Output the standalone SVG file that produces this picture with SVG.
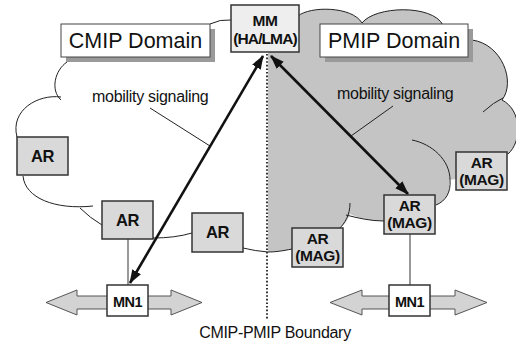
<svg xmlns="http://www.w3.org/2000/svg" width="516" height="346" viewBox="0 0 516 346">
<defs>
<style>
.cl{fill:none;stroke:#222;stroke-width:1}
.box{fill:#d9d9d9;stroke:#333;stroke-width:1.5}
.lbl{fill:#fff;stroke:#444;stroke-width:1}
.sh{fill:#9a9a9a}
.t{font-family:"Liberation Sans",Arial,sans-serif;fill:#111}
.b{font-weight:bold;font-size:16.5px;text-anchor:middle;letter-spacing:-0.5px}
.b2{font-weight:bold;font-size:15.5px;text-anchor:middle;letter-spacing:-0.4px}
.ms{font-size:16px;letter-spacing:-0.3px}
.ld{fill:none;stroke:#222;stroke-width:1}
.thick{fill:none;stroke:#111;stroke-width:2.6}
.dbl{fill:#d3d3d3;stroke:#555;stroke-width:1}
.vl{stroke:#777;stroke-width:1.5}
</style>
<marker id="ah" viewBox="0 0 14 10" refX="13" refY="5" markerWidth="14" markerHeight="10" markerUnits="userSpaceOnUse" orient="auto-start-reverse">
<path d="M0,0 L14,5 L0,10 z" fill="#111"/>
</marker>
</defs>

<g id="pmip-cloud">
<path fill="#c4c4c4" d="M268,52 L268,18 L298,16 C310,6 352,6 362,23 C375,6 432,4 443,25 L472,40 C502,44 516,82 502,100 C522,110 522,142 508,154 L505,165 L456,179 L449,180 C451,192 446,201 436,205 L436,222 L384,221 C370,221 358,218 350,214 C348,220 344,225 339,229 L292,249 C282,251 275,252 268,252 Z"/>
<path class="cl" d="M298,16 C310,6 352,6 362,23"/>
<path class="cl" d="M362,23 C375,6 432,4 443,25"/>
<path class="cl" d="M472,40 C502,44 516,82 502,100"/>
<path class="cl" d="M502,100 C522,110 522,142 508,154"/>
<path class="cl" d="M483,112 Q494,102 503,98"/>
<path class="cl" d="M412,140 C432,144 450,160 450,180"/>
<path class="cl" d="M450,180 C451,192 446,201 436,205"/>
<path class="cl" d="M384,221 C370,221 358,218 346,215"/>
<path class="cl" d="M350,203 C350,215 345,223 339,229"/>
<path class="cl" d="M292,249 C282,251 275,252 268,252"/>
</g>

<g id="cmip-cloud">
<path class="cl" d="M210,24 Q220,19 231,20"/>
<path class="cl" d="M67,62 C55,70 50,90 61,100"/>
<path class="cl" d="M61,97 C38,94 10,110 17,137"/>
<path class="cl" d="M23,176 C25,198 55,210 93,206"/>
<path class="cl" d="M80,208 Q90,218 102,225"/>
<path class="cl" d="M153,238 Q175,238 192,233"/>
<path class="cl" d="M243,248 Q255,251 268,252"/>
</g>

<g id="labels">
<g id="cmip-label">
<rect class="sh" x="66" y="29" width="149" height="33"/>
<rect class="lbl" x="61" y="24" width="149" height="33"/>
<text class="t" x="135.5" y="48" font-size="21.5" text-anchor="middle">CMIP Domain</text>
</g>
<g id="pmip-label">
<rect class="sh" x="325" y="29" width="148" height="33"/>
<rect class="lbl" x="320" y="24" width="148" height="33"/>
<text class="t" x="394" y="48" font-size="21.5" text-anchor="middle">PMIP Domain</text>
</g>
<text class="t ms" x="92" y="102">mobility signaling</text>
<text class="t ms" x="337" y="99">mobility signaling</text>
<text class="t" x="275" y="338" font-size="16" text-anchor="middle" letter-spacing="-0.3">CMIP-PMIP Boundary</text>
</g>

<g id="connectors">
<line class="ld" x1="150" y1="108" x2="210" y2="146"/>
<line class="ld" x1="393" y1="106" x2="351" y2="136"/>
<line x1="267" y1="54" x2="267" y2="319" stroke="#333" stroke-width="2" stroke-dasharray="1.6 2"/>
<line class="vl" x1="128" y1="239" x2="128" y2="285"/>
<line class="vl" x1="410" y1="234" x2="410" y2="285"/>
<polygon class="dbl" points="46,302.5 77,290 77,296 171,296 171,290 202,302.5 171,315 171,309 77,309 77,315"/>
<polygon class="dbl" points="330,302.5 362,290 362,296 455,296 455,290 487,302.5 455,315 455,309 362,309 362,315"/>
<line class="thick" x1="130" y1="283" x2="263" y2="56" marker-start="url(#ah)" marker-end="url(#ah)"/>
<line class="thick" x1="271" y1="56" x2="408" y2="194" marker-start="url(#ah)" marker-end="url(#ah)"/>
</g>

<g id="mm">
<rect x="231" y="5" width="68" height="47" fill="#eeeeee" stroke="#333" stroke-width="1.5"/>
<text class="t" x="265" y="26" font-size="15.5" font-weight="bold" text-anchor="middle" letter-spacing="-0.5">MM</text>
<text class="t" x="265" y="44" font-size="15.5" font-weight="bold" text-anchor="middle" letter-spacing="-0.9">(HA/LMA)</text>
</g>

<g id="ar1"><rect class="box" x="17" y="137" width="51" height="38"/><text class="t b" x="42.5" y="162">AR</text></g>
<g id="ar2"><rect class="box" x="102" y="201" width="51" height="38"/><text class="t b" x="127.5" y="226">AR</text></g>
<g id="ar3"><rect class="box" x="192" y="213" width="51" height="39"/><text class="t b" x="217.5" y="238">AR</text></g>

<g id="mag1"><rect class="box" x="456" y="152" width="51" height="38"/><text class="t b2" x="481.5" y="168">AR</text><text class="t b2" x="481.5" y="185">(MAG)</text></g>
<g id="mag2"><rect class="box" x="384" y="195" width="51" height="39"/><text class="t b2" x="409.5" y="211">AR</text><text class="t b2" x="409.5" y="228">(MAG)</text></g>
<g id="mag3"><rect class="box" x="292" y="228" width="51" height="39"/><text class="t b2" x="317.5" y="244">AR</text><text class="t b2" x="317.5" y="261">(MAG)</text></g>

<g id="mn1-left"><rect x="107" y="285" width="41" height="31" fill="#fff" stroke="#333" stroke-width="1.5"/><text class="t" x="127.5" y="307" font-size="14.5" font-weight="bold" text-anchor="middle" letter-spacing="-0.6">MN1</text></g>
<g id="mn1-right"><rect x="389" y="285" width="41" height="31" fill="#fff" stroke="#333" stroke-width="1.5"/><text class="t" x="409.5" y="307" font-size="14.5" font-weight="bold" text-anchor="middle" letter-spacing="-0.6">MN1</text></g>
</svg>
